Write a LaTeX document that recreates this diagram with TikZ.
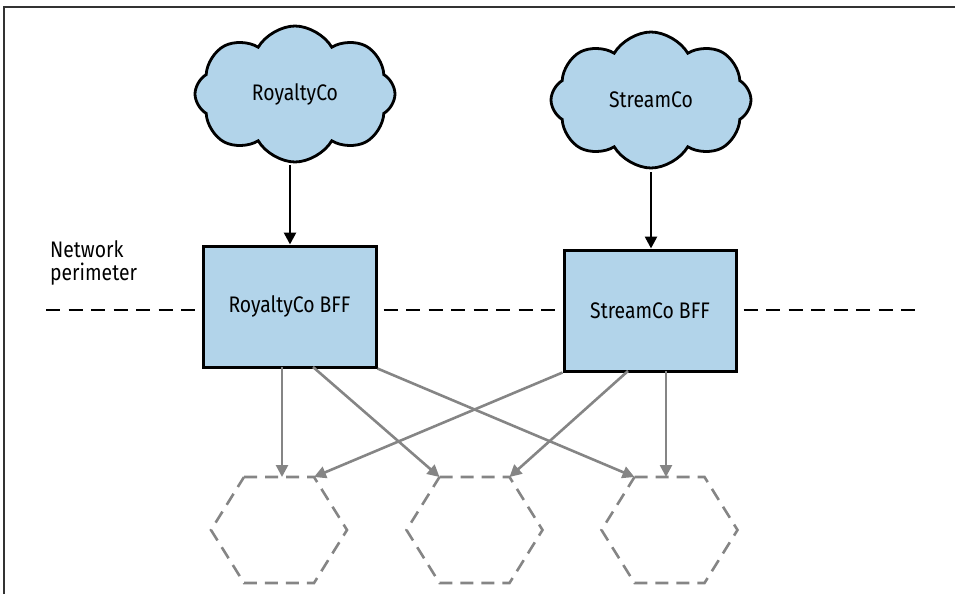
\documentclass[tikz,border=0pt]{standalone}
\usepackage{fontspec}
\setmainfont{Fira Sans}[FakeStretch=0.86]
\usetikzlibrary{shapes.symbols,arrows.meta}
\definecolor{bluefill}{HTML}{B2D4EA}
\definecolor{arrowgray}{HTML}{858585}
\tikzset{
  labelfont/.style={font=\fontsize{22.5}{23}\selectfont},
  cloudnode/.style={cloud, cloud puffs=8, cloud puff arc=120, aspect=1.45, draw=black, line width=2.8pt, fill=bluefill, minimum width=200pt, minimum height=136pt, inner sep=0pt, labelfont},
  bffbox/.style={draw=black, line width=3pt, fill=bluefill, inner sep=0pt, labelfont},
  blackarrow/.style={-{Triangle[length=12pt,width=12pt]}, line width=2.6pt, black},
  grayarrow/.style={-{Triangle[length=12pt,width=12pt]}, line width=2.6pt, arrowgray},
  hexagonshape/.style={draw=arrowgray, line width=2.6pt, dash pattern=on 13pt off 8pt},
  perimeter/.style={draw=black, line width=2.8pt, dash pattern=on 14pt off 8.5pt},
  frameline/.style={draw=black!80, line width=1.3pt}
}
\begin{document}
\begin{tikzpicture}[x=1pt,y=-1pt]
\useasboundingbox (0,0) rectangle (955,594);
% frame
\draw[frameline] (4,594) -- (4,7) -- (955,7);
% perimeter line (behind boxes)
\coordinate (pl) at (46,310);
\coordinate (pr) at (923,310);
\draw[perimeter] (pl) -- (pr);
\node[anchor=base west, align=left, inner sep=0pt, labelfont] (np) at (50,280) {Network\\perimeter};
% clouds
\node[cloudnode] (rc) at (295,94) {RoyaltyCo};
\node[cloudnode] (sc) at (651,100) {StreamCo};
% boxes
\node[bffbox, minimum width=173pt, minimum height=121pt] (rb) at (289.5,306.5) {RoyaltyCo BFF};
\node[bffbox, minimum width=172pt, minimum height=121pt] (sb) at (650,310.5) {StreamCo BFF};
% cloud to box
\coordinate (rcb) at (290,165);
\draw[blackarrow] (rcb) -- (rcb |- rb.north);
\draw[blackarrow] (sc.south |- 0,172) -- (sc.south |- sb.north);
% hexagons
\foreach \n/\cx in {1/279,2/474.5,3/669.5}{
  \coordinate (h\n) at (\cx,530);
  \coordinate (h\n tl) at (\cx-35,477);
  \coordinate (h\n tr) at (\cx+35,477);
  \coordinate (h\n t) at (\cx,477);
  \draw[hexagonshape] (\cx-35,477) -- (\cx+35,477) -- (\cx+68,530) -- (\cx+35,583) -- (\cx-35,583) -- (\cx-68,530) -- cycle;
}
% gray arrows
\coordinate (rb1) at (282,367);
\coordinate (rb2) at (313,367);
\coordinate (sb2) at (628,371);
\coordinate (sb3) at (666,371);
\draw[grayarrow] (rb1) -- (rb1 |- h1t);
\draw[grayarrow] (rb2) -- (h2tl);
\draw[grayarrow] (rb.south east) -- (h3tl);
\draw[grayarrow] (sb.south west) -- (h1tr);
\draw[grayarrow] (sb2) -- (h2tr);
\draw[grayarrow] (sb3) -- (sb3 |- h3t);
\end{tikzpicture}
\end{document}
